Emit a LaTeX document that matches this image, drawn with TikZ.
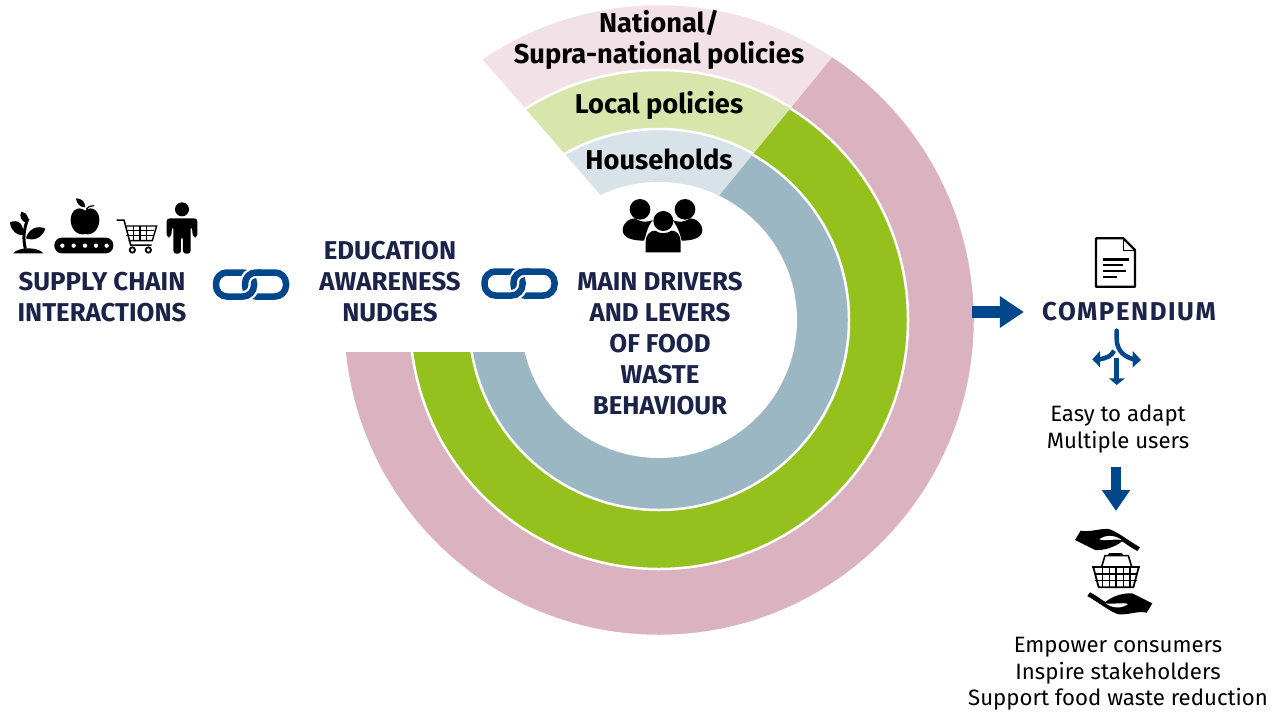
\documentclass[tikz,border=0pt]{standalone}
\usepackage{fontspec}
\setmainfont{Fira Sans}
\newfontfamily\widefont[LetterSpace=6]{Fira Sans}
\usetikzlibrary{positioning, arrows.meta}
\definecolor{navytext}{HTML}{1B2349}
\definecolor{arrowblue}{HTML}{00468B}
\definecolor{pinkring}{HTML}{DBB2C0}
\definecolor{greenring}{HTML}{95C11F}
\definecolor{bluering}{HTML}{9BB7C4}
\definecolor{pinkpale}{HTML}{F2E2E8}
\definecolor{greenpale}{HTML}{D8E6AC}
\definecolor{bluepale}{HTML}{D7E3E9}
\tikzstyle{theme}=[%
      text=navytext, inner sep=0pt, align=center, font=\fontsize{25.8}{31}\selectfont\bfseries
]
\tikzstyle{level}=[%
      text=black, inner sep=0pt, align=center, font=\fontsize{27.3}{31}\selectfont\bfseries
]
\tikzstyle{note}=[%
      text=black, inner sep=0pt, align=center, font=\fontsize{22.2}{26.5}\selectfont
]
\tikzstyle{ringline}=[draw=white, line width=2.5pt]
\tikzstyle{bigarrow}=[%
      draw=arrowblue, -{Triangle[length=24pt,width=30pt]}
]
\tikzstyle{chainline}=[draw=arrowblue, line width=6.5pt, rounded corners=11pt]
\tikzstyle{chaingap}=[draw=white, line width=11pt, rounded corners=11pt]
\tikzset{
  chainlink/.pic={
    \draw[chainline] (-6,-12) rectangle (35,12);
    \draw[chaingap]  (-8,12) -- (3,12) -- (3,4);
    \draw[chainline] (-35,-12) rectangle (3,12);
    \draw[chaingap]  (-6,0) -- (-6,-12) -- (6,-12);
    \draw[chainline] (-6,1) -- (-6,-12) -- (10,-12);
  }
}
\newcommand{\handshape}{%
    \fill (105,240) -- (122,212) .. controls (150,218) and (175,205) .. (205,207)
       .. controls (225,210) and (270,245) .. (300,262) -- (292,273)
       .. controls (275,265) and (260,252) .. (246,244)
       .. controls (225,262) and (190,272) .. (165,270) -- cycle;
    \fill[white] (178,238) .. controls (195,224) and (225,224) .. (245,240)
       .. controls (225,236) and (195,244) .. (178,238) -- cycle;
}

\begin{document}
\begin{tikzpicture}[x=1pt, y=-1pt, auto]
    \useasboundingbox (0,0) rectangle (1279,712);

    \begin{scope}[shift={(659,320)}, yscale=-1]
      \begin{scope}
        \clip (3,55) -- (224,325) -- (400,325) -- (400,-400) -- (-400,-400) -- (-400,-32) -- (3,-32) -- cycle;
        \foreach \r/\c in {316/pinkring, 249/greenring, 190/bluering}
          \draw[ringline, fill=\c] (0,0) circle (\r);
      \end{scope}
      \begin{scope}
        \clip (3,55) -- (224,325) -- (-231,323) -- cycle;
        \foreach \r/\c in {316/pinkpale, 250/greenpale, 191/bluepale}
          \draw[ringline, fill=\c] (0,0) circle (\r);
      \end{scope}
      \fill[white] (0,0) circle (138);
    \end{scope}

    \node[level]  (national)  at (659,40)              {National/\\Supra-national policies};
    \node[level]  (local)     at (659,105)             {Local policies};
    \node[level]  (house)     at (659,159)             {Households};
    \node[theme]  (drivers)   at (660,344)             {MAIN DRIVERS\\AND LEVERS\\OF FOOD\\WASTE\\BEHAVIOUR};
    \node[theme]  (nudges)    at (390,282)             {EDUCATION\\AWARENESS\\NUDGES};
    \node[theme]  (supply)    at (102,297)             {SUPPLY CHAIN\\INTERACTIONS};
    \node[theme, font=\fontsize{25.8}{31}\selectfont\bfseries\widefont] (compendium) at (1129,312) {COMPENDIUM};
    \node[note]   (adapt)     at (1118,429)            {Easy to adapt\\Multiple users};
    \node[note]   (empower)   at (1118,674)            {Empower consumers\\Inspire stakeholders\\Support food waste reduction};

    \coordinate (ringedge)  at (972,312);
    \coordinate (handstop)  at (1116,511);

    \path (251,284.5) pic {chainlink};
    \path (519.5,283.5) pic {chainlink};

    \draw[bigarrow, line width=11.5pt, shorten >=18pt] (ringedge) -- (compendium.west);
    \draw[bigarrow, line width=10pt, shorten <=14pt, {-Triangle[length=21pt,width=27pt]}] (adapt.south -| handstop) -- (handstop);

    % supply chain icons
    \begin{scope}[shift={(0,190)}, scale=1/3]
      \fill (40,190) .. controls (55,170) and (115,170) .. (130,190) -- cycle;
      \draw[line width=3pt] (76,176) .. controls (68,145) and (72,115) .. (84,85);
      \fill (30,97) .. controls (55,85) and (75,105) .. (68,136) .. controls (50,136) and (32,122) .. (30,97) -- cycle;
      \fill (78,145) .. controls (85,115) and (115,105) .. (136,116) .. controls (128,140) and (105,155) .. (78,145) -- cycle;
      \fill (64,65) .. controls (80,68) and (90,82) .. (82,100) .. controls (65,95) and (56,80) .. (64,65) -- cycle;

      \fill (255,62) .. controls (275,45) and (298,62) .. (298,90) .. controls (298,115) and (280,138) .. (255,132)
         .. controls (230,138) and (212,115) .. (212,90) .. controls (212,62) and (235,45) .. (255,62) -- cycle;
      \fill (228,25) .. controls (245,25) and (255,35) .. (256,52) .. controls (240,52) and (230,42) .. (228,25) -- cycle;
      \draw[line width=1.2pt] (258,58) .. controls (262,50) and (272,47) .. (282,47);
      \fill[rounded corners=7.5pt] (163,143) rectangle (340,190);
      \foreach \x in {187,221,255,288,320}
        \fill[white] (\x,167) circle (6.5);

      \draw[line width=1.5pt] (350,90) -- (372,90) -- (392,165) -- (455,165);
      \draw[line width=1.4pt] (375,108) -- (470,108) -- (457,152) -- (386,152);
      \foreach \x in {400,420,440}
        \draw[line width=1.1pt] (\x,108) -- (\x,152);
      \foreach \y in {122,137}
        \draw[line width=1.1pt] (379,\y) -- (463,\y);
      \foreach \x in {397,445}
        \draw[line width=1.8pt] (\x,180) circle (8);

      \fill (546,58) circle (21);
      \fill[rounded corners=3pt] (500,85) -- (592,85) -- (592,142) -- (579,142) -- (575,108) -- (572,108)
         -- (572,191) -- (549,191) -- (549,140) -- (543,140) -- (543,191) -- (520,191) -- (520,108)
         -- (517,108) -- (513,142) -- (500,142) -- cycle;
    \end{scope}

    % people above the drivers
    \begin{scope}[shift={(460,0)}, scale=1/3]
      \foreach \x in {540,675} \fill (\x,628) circle (31);
      \fill (488,690) .. controls (490,665) and (510,655) .. (525,655) .. controls (545,670) and (570,665) .. (578,660)
         .. controls (560,685) and (560,700) .. (552,722) .. controls (520,722) and (488,715) .. (488,690) -- cycle;
      \fill (727,690) .. controls (725,665) and (705,655) .. (690,655) .. controls (670,670) and (645,665) .. (638,660)
         .. controls (655,685) and (660,700) .. (665,722) .. controls (695,722) and (727,715) .. (727,690) -- cycle;
      \fill (610,663) circle (30);
      \fill (557,757) -- (557,725) .. controls (557,705) and (570,692) .. (585,692) .. controls (600,702) and (620,702) .. (635,692)
         .. controls (650,692) and (662,705) .. (662,725) -- (662,757) -- cycle;
    \end{scope}

    % document
    \begin{scope}[shift={(960,230)}, scale=1/3]
      \draw[line width=2.2pt, line join=round] (408,25) -- (490,25) -- (525,60) -- (525,170) -- (408,170) -- cycle;
      \draw[line width=1.5pt, line join=round] (490,25) -- (490,62) -- (525,62);
      \foreach \y/\e in {88/506, 105/488, 123/498, 141/470}
        \draw[line width=2.7pt] (430,\y) -- (\e,\y);
    \end{scope}

    % split arrows
    \begin{scope}[shift={(960,230)}, scale=1/3]
      \draw[arrowblue, line width=4.5pt, line cap=round] (470,302) -- (470,325) .. controls (470,360) and (490,380) .. (522,388);
      \draw[arrowblue, line width=4.5pt] (462,362) .. controls (455,378) and (440,385) .. (415,388);
      \draw[arrowblue, line width=4.5pt] (470,385) -- (470,448);
      \fill[arrowblue] (518,363) -- (543,390) -- (518,412) -- cycle;
      \fill[arrowblue] (397,388) -- (420,363) -- (420,412) -- cycle;
      \fill[arrowblue] (447,445) -- (495,445) -- (470,465) -- cycle;
    \end{scope}

    % hands and basket
    \begin{scope}[shift={(1040,460)}, scale=1/3]
      \handshape
      \begin{scope}[rotate around={180:(221,335)}]
        \handshape
      \end{scope}
      \draw[line width=2.2pt] (156,322) -- (300,322);
      \draw[line width=1.6pt] (185,320) -- (195,287) -- (265,287) -- (275,320);
      \draw[line width=3pt, line cap=round] (208,284) -- (245,284);
      \draw[line width=1.8pt, line join=round] (160,322) -- (176,382) -- (280,382) -- (296,322);
      \foreach \x in {187,208,228,250,270}
        \draw[line width=1.4pt] (\x,322) -- (\x,382);
      \foreach \y in {342,362}
        \draw[line width=1.4pt] (165,\y) -- (291,\y);
    \end{scope}
\end{tikzpicture}
\end{document}
